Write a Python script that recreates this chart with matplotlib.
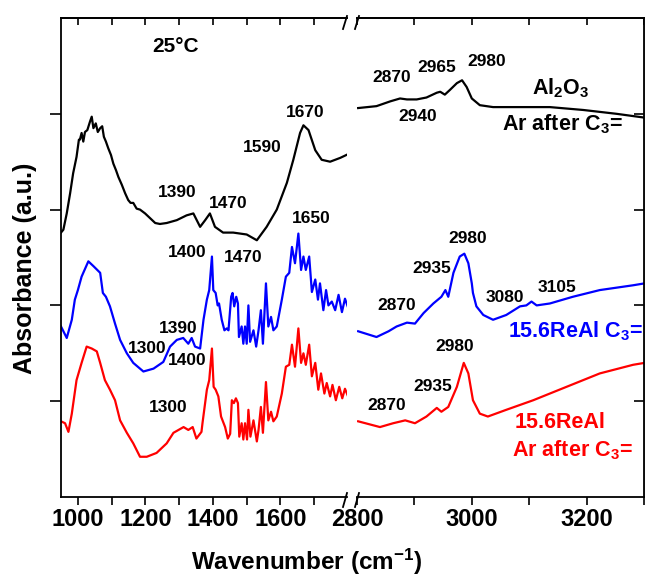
import matplotlib
matplotlib.use('Agg')
import matplotlib.pyplot as plt
from matplotlib.lines import Line2D
from matplotlib.ticker import MultipleLocator

plt.rcParams['font.family'] = ['Liberation Sans', 'DejaVu Sans']
plt.rcParams['font.weight'] = 'bold'
plt.rcParams['mathtext.fontset'] = 'custom'
plt.rcParams['mathtext.rm'] = 'Liberation Sans:bold'
plt.rcParams['mathtext.it'] = 'Liberation Sans:bold'
plt.rcParams['mathtext.bf'] = 'Liberation Sans:bold'
plt.rcParams['mathtext.default'] = 'rm'

# Al2O3, Ar after C3= (black)
al_low_w = [950, 957, 967, 977, 986, 996, 1003, 1006, 1011, 1016, 1021, 1028, 1036, 1041,
            1046, 1053, 1059, 1066, 1072, 1077, 1083, 1090, 1098, 1105, 1113, 1120, 1130,
            1140, 1149, 1156, 1164, 1174, 1184, 1199, 1214, 1229, 1243, 1263, 1293, 1322,
            1342, 1362, 1377, 1391, 1406, 1430, 1460, 1500, 1530, 1559, 1589, 1619, 1638,
            1658, 1668, 1683, 1703, 1722, 1747, 1777, 1801]
al_low_a = [2.76, 2.79, 2.96, 3.17, 3.38, 3.55, 3.73, 3.73, 3.80, 3.71, 3.81, 3.83, 3.92, 3.97,
            3.85, 3.90, 3.81, 3.85, 3.87, 3.76, 3.71, 3.64, 3.57, 3.48, 3.41, 3.34, 3.26,
            3.17, 3.10, 3.07, 3.07, 3.01, 3.00, 2.96, 2.91, 2.86, 2.85, 2.86, 2.89, 2.94,
            2.96, 2.82, 2.89, 2.96, 2.82, 2.76, 2.76, 2.74, 2.68, 2.82, 3.00, 3.28, 3.52,
            3.80, 3.88, 3.83, 3.62, 3.52, 3.50, 3.54, 3.58]
al_high_w = [2802, 2834, 2858, 2875, 2887, 2904, 2921, 2939, 2945, 2953, 2962, 2974, 2983,
             2991, 3000, 3014, 3037, 3078, 3136, 3194, 3252, 3301]
al_high_a = [4.06, 4.08, 4.13, 4.16, 4.15, 4.15, 4.17, 4.22, 4.23, 4.20, 4.25, 4.32, 4.35,
             4.28, 4.16, 4.09, 4.07, 4.07, 4.07, 4.04, 4.00, 3.96]

# 15.6ReAl C3= (blue)
re_c3_low_w = [950, 967, 982, 991, 1000, 1011, 1031, 1046, 1066, 1074, 1083, 1095, 1110, 1125,
               1145, 1164, 1194, 1224, 1253, 1273, 1293, 1312, 1327, 1337, 1347, 1362, 1372,
               1382, 1389, 1397, 1401, 1408, 1414, 1418, 1426, 1434, 1441, 1446, 1454, 1458,
               1463, 1469, 1474, 1477, 1485, 1490, 1495, 1500, 1505, 1510, 1520, 1528, 1535,
               1542, 1548, 1557, 1564, 1572, 1579, 1589, 1604, 1616, 1626, 1634, 1643, 1653,
               1661, 1668, 1675, 1685, 1693, 1703, 1711, 1717, 1727, 1735, 1742, 1752, 1762,
               1772, 1782, 1791, 1799]
re_c3_low_a = [1.78, 1.66, 1.85, 2.06, 2.16, 2.30, 2.46, 2.41, 2.34, 2.13, 2.09, 1.99, 1.81, 1.64,
               1.50, 1.40, 1.31, 1.34, 1.41, 1.57, 1.64, 1.66, 1.60, 1.66, 1.57, 1.55, 1.85,
               2.06, 2.16, 2.51, 2.16, 2.13, 2.00, 2.02, 1.85, 1.74, 1.76, 1.74, 2.09, 2.13,
               1.99, 2.09, 2.02, 1.67, 1.78, 1.60, 1.78, 1.60, 2.00, 1.62, 1.74, 1.57, 1.74,
               1.95, 1.60, 2.23, 1.78, 1.88, 1.74, 1.78, 2.06, 2.30, 2.34, 2.61, 2.44, 2.75,
               2.37, 2.51, 2.37, 2.51, 2.14, 2.27, 2.06, 2.23, 1.95, 2.16, 2.00, 2.04, 1.95,
               2.11, 1.93, 2.07, 1.99]
re_c3_high_w = [2802, 2834, 2855, 2869, 2887, 2901, 2916, 2933, 2947, 2954, 2959, 2968, 2979,
                2987, 2994, 3000, 3002, 3008, 3020, 3037, 3060, 3084, 3095, 3104, 3113, 3136,
                3176, 3223, 3281, 3301]
re_c3_high_a = [1.73, 1.67, 1.73, 1.78, 1.82, 1.81, 1.92, 2.02, 2.09, 2.16, 2.09, 2.34, 2.51,
                2.54, 2.44, 2.23, 2.13, 1.99, 1.90, 1.85, 1.90, 1.99, 2.00, 2.04, 2.00, 2.02,
                2.09, 2.16, 2.21, 2.23]

# 15.6ReAl, Ar after C3= (red)
re_ar_low_w = [950, 962, 972, 982, 996, 1011, 1026, 1041, 1056, 1066, 1080, 1095, 1110, 1125,
               1145, 1164, 1184, 1204, 1233, 1263, 1283, 1313, 1327, 1340, 1351, 1366, 1369,
               1382, 1389, 1397, 1402, 1408, 1416, 1424, 1436, 1444, 1451, 1456, 1462, 1468,
               1474, 1478, 1485, 1490, 1495, 1501, 1505, 1511, 1520, 1530, 1535, 1542, 1548,
               1557, 1564, 1572, 1579, 1589, 1604, 1616, 1626, 1634, 1643, 1653, 1661, 1668,
               1675, 1685, 1693, 1703, 1712, 1720, 1730, 1737, 1747, 1754, 1764, 1774, 1783,
               1791, 1799]
re_ar_low_a = [0.79, 0.77, 0.68, 0.87, 1.22, 1.40, 1.57, 1.55, 1.52, 1.40, 1.22, 1.12, 1.01, 0.80,
               0.67, 0.56, 0.42, 0.42, 0.46, 0.56, 0.67, 0.73, 0.70, 0.73, 0.61, 0.68, 0.77,
               1.12, 1.22, 1.55, 1.15, 1.12, 1.05, 0.84, 0.73, 0.61, 0.66, 1.01, 0.98, 1.03,
               0.98, 0.63, 0.77, 0.60, 0.77, 0.60, 0.91, 0.63, 0.80, 0.58, 0.70, 0.94, 0.67,
               1.20, 0.80, 0.89, 0.79, 0.84, 1.08, 1.36, 1.38, 1.59, 1.36, 1.76, 1.40, 1.50,
               1.38, 1.59, 1.26, 1.40, 1.12, 1.29, 1.08, 1.19, 1.05, 1.17, 1.01, 1.15, 1.03,
               1.13, 1.06]
re_ar_high_w = [2802, 2840, 2863, 2884, 2901, 2921, 2939, 2947, 2959, 2974, 2986, 2994, 3002,
                3014, 3028, 3060, 3107, 3165, 3223, 3281, 3301]
re_ar_high_a = [0.79, 0.73, 0.77, 0.80, 0.77, 0.84, 0.93, 0.89, 0.94, 1.15, 1.40, 1.29, 1.01,
                0.87, 0.84, 0.91, 1.01, 1.15, 1.29, 1.38, 1.40]

# peak labels: (text, wavenumber, absorbance)
low_labels = [('1390', 1294, 3.18), ('1470', 1445, 3.06), ('1590', 1546, 3.65),
              ('1670', 1673, 4.01), ('1650', 1692, 2.91), ('1400', 1323, 2.55),
              ('1470', 1489, 2.50), ('1390', 1297, 1.76), ('1300', 1204, 1.55),
              ('1400', 1323, 1.42), ('1300', 1268, 0.93)]
high_labels = [('2870', 2861, 4.38), ('2965', 2939, 4.48), ('2980', 3026, 4.55),
               ('2940', 2906, 3.97), ('2980', 2992, 2.70), ('2935', 2931, 2.38),
               ('2870', 2870, 2.00), ('3080', 3058, 2.08), ('3105', 3148, 2.19),
               ('2980', 2971, 1.57), ('2935', 2932, 1.15), ('2870', 2852, 0.96)]

fig = plt.figure(figsize=(6.45, 5.78), dpi=100)
W, H = 645.0, 578.0
ax1 = fig.add_axes([61 / W, 1 - 497 / H, 286 / W, 479 / H])
ax2 = fig.add_axes([357 / W, 1 - 497 / H, 287 / W, 479 / H])

lw = 1.6
ax1.plot(al_low_w, al_low_a, color='black', lw=lw)
ax1.plot(re_c3_low_w, re_c3_low_a, color='blue', lw=lw)
ax1.plot(re_ar_low_w, re_ar_low_a, color='red', lw=lw)
ax2.plot(al_high_w, al_high_a, color='black', lw=lw)
ax2.plot(re_c3_high_w, re_c3_high_a, color='blue', lw=lw)
ax2.plot(re_ar_high_w, re_ar_high_a, color='red', lw=lw)

ax1.set_xlim(950, 1797)
ax2.set_xlim(2800, 3300)
for ax in (ax1, ax2):
    ax.set_ylim(0, 5)
    ax.xaxis.set_major_locator(MultipleLocator(200))
    ax.xaxis.set_minor_locator(MultipleLocator(100))
    ax.tick_params(axis='x', which='both', direction='out', length=6, width=1.2,
                   labelsize=17, pad=2)
    for sp in ax.spines.values():
        sp.set_linewidth(1.3)
    top = ax.secondary_xaxis('top')
    top.xaxis.set_major_locator(MultipleLocator(200))
    top.xaxis.set_minor_locator(MultipleLocator(100))
    top.tick_params(axis='x', which='both', direction='in', length=5, width=1.2,
                    labeltop=False)
    top.spines['top'].set_linewidth(1.3)

ax1.spines['right'].set_visible(False)
ax2.spines['left'].set_visible(False)
ax1.set_yticks([1, 2, 3, 4])
ax1.tick_params(axis='y', direction='out', length=8, width=1.2, labelleft=False)
ax2.tick_params(axis='y', left=False, labelleft=False)
rgt = ax2.secondary_yaxis('right')
rgt.set_yticks([1, 2, 3, 4])
rgt.tick_params(axis='y', direction='in', length=7, width=1.2, labelright=False)
rgt.spines['right'].set_linewidth(0.8)
rgt.spines['right'].set_color('#888888')

for txt, w, a in low_labels:
    ax1.text(w, a, txt, fontsize=12.5, ha='center', va='center')
for txt, w, a in high_labels:
    ax2.text(w, a, txt, fontsize=12.5, ha='center', va='center')

ax1.text(1288, 4.70, '25°C', fontsize=15, ha='center', va='center')
ax2.text(3154, 4.20, 'Al$_2$O$_3$', fontsize=15.5, ha='center', va='baseline')
ax2.text(3158, 3.83, 'Ar after C$_3$=', fontsize=15.5, ha='center', va='baseline')
ax2.text(3180, 1.67, '15.6ReAl C$_3$=', fontsize=15.5, ha='center', va='baseline',
         color='blue')
ax2.text(3154, 0.72, '15.6ReAl', fontsize=15.5, ha='center', va='baseline', color='red')
ax2.text(3176, 0.42, 'Ar after C$_3$=', fontsize=15.5, ha='center', va='baseline',
         color='red')

fig.text(307 / W, 1 - 562 / H, 'Wavenumber (cm$^{-1}$)', fontsize=17.5, ha='center',
         va='center')
fig.text(25 / W, 1 - 268 / H, 'Absorbance (a.u.)', fontsize=18, ha='center',
         va='center', rotation=90)

# break marks on the x axis
for y0, y1 in ((29, 16), (507, 493)):
    for x0 in (343, 355):
        fig.add_artist(Line2D([x0 / W, (x0 + 4) / W], [1 - y0 / H, 1 - y1 / H],
                              color='black', lw=1.3))

fig.savefig('out.png', dpi=100)
